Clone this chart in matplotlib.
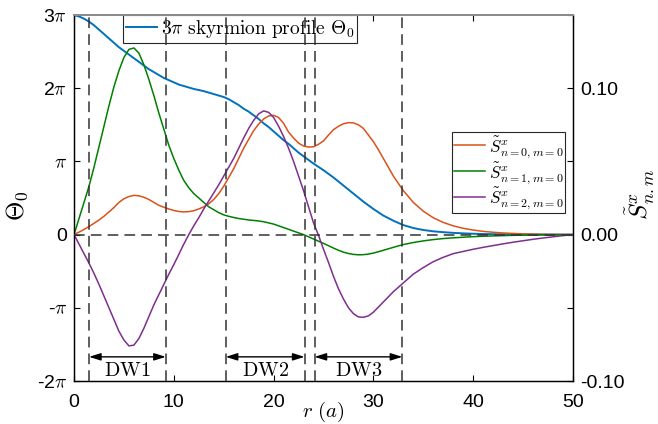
import numpy as np
import matplotlib
matplotlib.use('Agg')
import matplotlib.pyplot as plt

plt.rcParams['font.family'] = ['Liberation Sans', 'DejaVu Sans']
plt.rcParams['mathtext.fontset'] = 'cm'

# radial grid (units of a)
r = [0, 0.5, 1, 1.5, 2, 2.5, 3, 3.5, 4, 4.5, 5, 5.5, 6, 6.5, 7, 7.5, 8, 8.5, 9, 9.5,
     10, 10.5, 11, 11.5, 12, 12.5, 13, 13.5, 14, 14.5, 15, 15.5, 16, 16.5, 17, 17.5,
     18, 18.5, 19, 19.5, 20, 20.5, 21, 21.5, 22, 22.5, 23, 23.5, 24, 24.5, 25, 25.5,
     26, 26.5, 27, 27.5, 28, 28.5, 29, 29.5, 30, 30.5, 31, 31.5, 32, 32.5, 33,
     34, 35, 36, 37, 38, 39, 40, 41, 42, 43, 44, 45, 46, 47, 48, 49, 50]

# skyrmion profile Theta_0 in units of pi
theta0 = [3.00, 2.98, 2.95, 2.91, 2.86, 2.80, 2.74, 2.68, 2.62, 2.56, 2.51, 2.46, 2.41, 2.36,
          2.31, 2.26, 2.22, 2.18, 2.14, 2.11, 2.08, 2.05, 2.03, 2.01, 1.99, 1.975, 1.96, 1.94,
          1.92, 1.90, 1.88, 1.85, 1.81, 1.77, 1.72, 1.68, 1.63, 1.58, 1.52, 1.47, 1.41, 1.35,
          1.29, 1.24, 1.18, 1.12, 1.07, 1.02, 0.97, 0.925, 0.88, 0.83, 0.78, 0.725, 0.67, 0.615,
          0.56, 0.505, 0.45, 0.40, 0.35, 0.305, 0.26, 0.225, 0.19, 0.16, 0.13,
          0.09, 0.063, 0.045, 0.033, 0.024, 0.017, 0.012, 0.008, 0.006, 0.004, 0.003, 0.002,
          0.0015, 0.001, 0.0005, 0.0002, 0.0]

s_n0 = [0.000, 0.0017, 0.0035, 0.0055, 0.0077, 0.010, 0.0125, 0.0155, 0.0185, 0.022, 0.0245,
        0.026, 0.0268, 0.0265, 0.0255, 0.024, 0.022, 0.020, 0.0187, 0.0175, 0.0165, 0.0158,
        0.0155, 0.0157, 0.0163, 0.0175, 0.019, 0.021, 0.024, 0.028, 0.033, 0.039, 0.045, 0.052,
        0.059, 0.065, 0.071, 0.0755, 0.079, 0.081, 0.0815, 0.080, 0.076, 0.070, 0.066, 0.0625,
        0.0605, 0.0598, 0.060, 0.0617, 0.064, 0.068, 0.0717, 0.074, 0.0757, 0.0765, 0.0763,
        0.075, 0.0725, 0.068, 0.0635, 0.058, 0.052, 0.046, 0.040, 0.035, 0.030,
        0.022, 0.016, 0.0115, 0.0083, 0.006, 0.0043, 0.0031, 0.0022, 0.0016, 0.0011, 0.0008,
        0.0005, 0.0003, 0.0002, 0.0001, 0.00005, 0.0]

s_n1 = [0.000, 0.011, 0.022, 0.033, 0.046, 0.060, 0.074, 0.088, 0.101, 0.112, 0.121, 0.1265,
        0.1275, 0.124, 0.116, 0.106, 0.095, 0.083, 0.072, 0.061, 0.052, 0.044, 0.037, 0.032,
        0.028, 0.025, 0.022, 0.019, 0.017, 0.015, 0.0135, 0.0125, 0.0117, 0.011, 0.0105, 0.010,
        0.0097, 0.0093, 0.0088, 0.008, 0.0072, 0.006, 0.0048, 0.0036, 0.0024, 0.0012, 0.0,
        -0.0015, -0.003, -0.0045, -0.006, -0.0076, -0.0092, -0.0107, -0.012, -0.0129, -0.0135,
        -0.0138, -0.0137, -0.0133, -0.0126, -0.0117, -0.0107, -0.0097, -0.0087, -0.0077, -0.0068,
        -0.0054, -0.0043, -0.0034, -0.0027, -0.0022, -0.0018, -0.0014, -0.0011, -0.0009,
        -0.0007, -0.0005, -0.0004, -0.0003, -0.0002, -0.0001, -0.0001, 0.0]

s_n2 = [0.000, -0.0065, -0.013, -0.0195, -0.0265, -0.034, -0.042, -0.050, -0.058, -0.066,
        -0.072, -0.076, -0.0755, -0.071, -0.064, -0.056, -0.048, -0.041, -0.034, -0.027,
        -0.0205, -0.0135, -0.0065, 0.000, 0.006, 0.0115, 0.0175, 0.023, 0.0285, 0.034, 0.040,
        0.046, 0.052, 0.059, 0.066, 0.0725, 0.078, 0.0825, 0.0845, 0.0835, 0.080, 0.074, 0.067,
        0.059, 0.050, 0.040, 0.030, 0.019, 0.008, -0.0005, -0.010, -0.019, -0.0285, -0.037,
        -0.044, -0.050, -0.054, -0.0562, -0.0565, -0.0555, -0.053, -0.0495, -0.046, -0.0425,
        -0.039, -0.036, -0.033,
        -0.027, -0.0225, -0.0185, -0.0155, -0.013, -0.0115, -0.010, -0.0087, -0.0075, -0.0063,
        -0.0052, -0.0042, -0.0032, -0.0023, -0.0015, -0.0007, 0.0]

# domain wall boundaries
dw_edges = [1.5, 9.2, 15.2, 23.1, 24.1, 32.9]
dw_labels = ['DW1', 'DW2', 'DW3']
dw_spans = [(1.5, 9.2), (15.2, 23.1), (24.1, 32.9)]

r = np.array(r)
theta0 = np.array(theta0) * np.pi

fig = plt.figure(figsize=(6.58, 4.24), dpi=100)
ax = fig.add_axes([0.1125, 0.1014, 0.7583, 0.8632])
ax2 = ax.twinx()

l0, = ax.plot(r, theta0, color='#0072BD', lw=1.4)
ax.set_xlim(0, 50)
ax.set_ylim(-2 * np.pi, 3 * np.pi)
ax.set_yticks(np.arange(-2, 4) * np.pi)
ax.set_yticklabels([r'-2$\pi$', r'-$\pi$', '0', r'$\pi$', r'2$\pi$', r'3$\pi$'])
ax.set_xticks([0, 10, 20, 30, 40, 50])
ax.set_ylabel(r'$\Theta_0$', fontsize=18)
ax.yaxis.set_label_coords(-0.088, 0.48)
ax.set_xlabel(r'$r\ (a)$', fontsize=15)
ax.xaxis.set_label_coords(0.5, -0.052)

la, = ax2.plot(r, s_n0, color='#D95319', lw=1.1)
lb, = ax2.plot(r, s_n1, color='#008000', lw=1.1)
lc, = ax2.plot(r, s_n2, color='#7E2F8E', lw=1.1)
ax2.set_ylim(-0.10, 0.15)
ax2.set_yticks([-0.10, -0.05, 0.0, 0.05, 0.10, 0.15])
ax2.set_yticklabels(['-0.10', '', '0.00', '', '0.10', ''])
ax2.set_ylabel(r'$\tilde{S}^{x}_{n.m}$', fontsize=18)
ax2.yaxis.set_label_coords(1.102, 0.51)

for a in (ax, ax2):
    a.tick_params(direction='in', length=4, width=0.8, labelsize=14, top=True, pad=5)
    for sp in a.spines.values():
        sp.set_linewidth(0.9)
    a.spines['top'].set_color('0.55')
    a.spines['top'].set_linewidth(1.4)
ax.tick_params(axis='x', pad=9)

# dashed guides
for x in dw_edges:
    ax2.axvline(x, color='0.2', lw=1.1, ls=(0, (7, 4)), zorder=5)
ax2.axhline(0, color='0.2', lw=1.1, ls=(0, (7, 4)), zorder=5)

# DW arrows
for (x1, x2), lab in zip(dw_spans, dw_labels):
    ax.annotate('', xy=(x1, -1.67 * np.pi), xytext=(x2, -1.67 * np.pi),
                arrowprops=dict(arrowstyle='<|-|>,head_length=0.7,head_width=0.22',
                                color='black', lw=1.0, shrinkA=0, shrinkB=0))
    ax.text((x1 + x2) / 2, -1.85 * np.pi, r'$\mathrm{' + lab + '}$',
            ha='center', va='center', fontsize=14.5)

leg1 = ax.legend([l0], [r'$3\pi\ \mathrm{skyrmion\ profile}\ \Theta_0$'],
                 loc='upper left', bbox_to_anchor=(0.187, 0.9646),
                 bbox_transform=fig.transFigure, fontsize=14, handlelength=1.6,
                 fancybox=False, edgecolor='0.15', framealpha=1,
                 borderpad=0.15, handletextpad=0.2, borderaxespad=0)
leg1.get_frame().set_linewidth(0.8)

leg2 = ax2.legend([la, lb, lc],
                  [r'$\tilde{S}^{x}_{n{=}0,m{=}0}$', r'$\tilde{S}^{x}_{n{=}1,m{=}0}$',
                   r'$\tilde{S}^{x}_{n{=}2,m{=}0}$'],
                  loc='upper left', bbox_to_anchor=(0.687, 0.689),
                  bbox_transform=fig.transFigure, fontsize=12.3, handlelength=1.85,
                  fancybox=False, edgecolor='0.15', framealpha=1,
                  borderpad=0.1, handletextpad=0.2, labelspacing=0.0, borderaxespad=0)
leg2.get_frame().set_linewidth(0.8)
leg2.set_zorder(10)

fig.savefig('out.png', dpi=100)
